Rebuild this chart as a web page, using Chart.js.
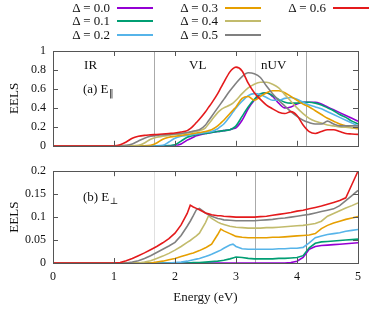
<!DOCTYPE html>
<html>
<head>
<meta charset="utf-8">
<script src="https://cdn.jsdelivr.net/npm/chart.js@4.4.1/dist/chart.umd.min.js"></script>
<style>
  body { margin: 0; width: 374px; height: 309px; background: #fff; position: relative; overflow: hidden; font-family: "Liberation Serif", serif; }
  canvas { position: absolute; left: 0; }
  #cTop { top: 0; }
  #cBot { top: 157px; }
  .lgText { position: absolute; font-size: 13px; line-height: 14px; color: #111; white-space: nowrap; text-align: right; }
  .lgLine { position: absolute; height: 2px; width: 36px; }
</style>
</head>
<body>
<canvas id="cTop" width="374" height="160"></canvas>
<canvas id="cBot" width="374" height="152"></canvas>
<div id="legend"></div>
<script>
// energy grid (eV)
var energy = [0, 0.5, 1.0, 1.1, 1.2, 1.3, 1.4, 1.5, 1.6, 1.7, 1.8, 1.9,
  2.0, 2.1, 2.2, 2.25, 2.3, 2.35, 2.4, 2.5, 2.55, 2.6, 2.7, 2.75, 2.8, 2.9, 2.95,
  3.0, 3.1, 3.2, 3.3, 3.4, 3.5, 3.6, 3.7, 3.8, 3.9,
  4.0, 4.1, 4.2, 4.3, 4.4, 4.5, 4.6, 4.7, 4.8, 4.9, 5.0];

var deltas = ["0.0", "0.1", "0.2", "0.3", "0.4", "0.5", "0.6"];
var colors = ["#9400d3", "#009e73", "#56b4e9", "#e69f00", "#c2bb6c", "#808080", "#e41a1c"];

var energyTicks = [0, 1, 2, 3, 4, 5];
var parTicks = [0, 0.2, 0.4, 0.6, 0.8, 1];
var perpTicks = [0, 0.05, 0.1, 0.15, 0.2];

// (a) E parallel
var par00 = [0, 0, 0, 0, 0, 0, 0, 0, 0, 0, 0, 0,
  0, 0.02, 0.06, 0.075, 0.09, 0.105, 0.115, 0.13, 0.135, 0.14, 0.15, 0.155, 0.16, 0.17, 0.18,
  0.19, 0.27, 0.39, 0.48, 0.54, 0.56, 0.52, 0.45, 0.40, 0.41,
  0.44, 0.46, 0.46, 0.46, 0.44, 0.41, 0.38, 0.35, 0.32, 0.29, 0.26];
var par01 = [0, 0, 0, 0, 0, 0, 0, 0, 0, 0, 0, 0.003,
  0.01, 0.05, 0.09, 0.10, 0.11, 0.118, 0.125, 0.13, 0.135, 0.14, 0.15, 0.155, 0.16, 0.17, 0.185,
  0.21, 0.31, 0.41, 0.49, 0.55, 0.56, 0.53, 0.49, 0.46, 0.45,
  0.45, 0.46, 0.46, 0.45, 0.43, 0.40, 0.37, 0.33, 0.30, 0.26, 0.23];
var par02 = [0, 0, 0, 0, 0, 0, 0, 0, 0, 0, 0.005, 0.04,
  0.08, 0.10, 0.11, 0.115, 0.12, 0.125, 0.13, 0.14, 0.145, 0.15, 0.18, 0.205, 0.23, 0.31, 0.355,
  0.40, 0.47, 0.53, 0.55, 0.54, 0.51, 0.48, 0.48, 0.50, 0.51,
  0.49, 0.46, 0.43, 0.41, 0.39, 0.36, 0.33, 0.30, 0.27, 0.24, 0.21];
var par03 = [0, 0, 0, 0, 0, 0, 0, 0, 0.005, 0.03, 0.07, 0.09,
  0.10, 0.11, 0.12, 0.125, 0.13, 0.135, 0.14, 0.15, 0.16, 0.17, 0.21, 0.24, 0.27, 0.34, 0.375,
  0.41, 0.50, 0.52, 0.48, 0.52, 0.56, 0.58, 0.58, 0.56, 0.52,
  0.48, 0.44, 0.41, 0.37, 0.33, 0.29, 0.26, 0.23, 0.21, 0.19, 0.18];
var par04 = [0, 0, 0, 0, 0, 0, 0.005, 0.03, 0.07, 0.09, 0.10, 0.11,
  0.12, 0.125, 0.135, 0.14, 0.145, 0.152, 0.16, 0.19, 0.23, 0.27, 0.35, 0.38, 0.40, 0.43, 0.45,
  0.48, 0.55, 0.61, 0.65, 0.67, 0.67, 0.65, 0.61, 0.54, 0.47,
  0.40, 0.34, 0.29, 0.26, 0.24, 0.22, 0.21, 0.20, 0.195, 0.19, 0.19];
var par05 = [0, 0, 0, 0, 0.005, 0.02, 0.05, 0.08, 0.10, 0.11, 0.115, 0.12,
  0.125, 0.13, 0.14, 0.147, 0.155, 0.162, 0.17, 0.22, 0.265, 0.31, 0.40, 0.445, 0.49, 0.58, 0.62,
  0.66, 0.73, 0.77, 0.76, 0.72, 0.63, 0.55, 0.48, 0.42, 0.36,
  0.31, 0.27, 0.245, 0.23, 0.23, 0.26, 0.23, 0.21, 0.21, 0.21, 0.21];
var par06 = [0, 0, 0, 0.01, 0.04, 0.08, 0.10, 0.11, 0.115, 0.12, 0.125, 0.13,
  0.135, 0.145, 0.16, 0.18, 0.21, 0.245, 0.28, 0.36, 0.405, 0.45, 0.55, 0.61, 0.67, 0.78, 0.815,
  0.83, 0.79, 0.66, 0.56, 0.49, 0.43, 0.39, 0.355, 0.34, 0.36,
  0.32, 0.22, 0.15, 0.13, 0.15, 0.17, 0.17, 0.15, 0.13, 0.125, 0.12];

// (b) E perpendicular
var perp00 = [0, 0, 0, 0, 0, 0, 0, 0, 0, 0, 0, 0,
  0, 0, 0, 0, 0, 0, 0, 0, 0, 0, 0, 0, 0, 0, 0,
  0, 0, 0, 0, 0, 0, 0, 0, 0, 0.001,
  0.004, 0.012, 0.030, 0.036, 0.038, 0.039, 0.040, 0.041, 0.042, 0.043, 0.044];
var perp01 = [0, 0, 0, 0, 0, 0, 0, 0, 0, 0, 0, 0,
  0, 0, 0, 0.0005, 0.001, 0.001, 0.001, 0.002, 0.0025, 0.003, 0.004, 0.005, 0.006, 0.009, 0.011,
  0.013, 0.012, 0.010, 0.009, 0.009, 0.009, 0.009, 0.010, 0.010, 0.011,
  0.012, 0.016, 0.033, 0.043, 0.046, 0.047, 0.048, 0.049, 0.050, 0.051, 0.052];
var perp02 = [0, 0, 0, 0, 0, 0, 0, 0, 0, 0, 0, 0,
  0.001, 0.002, 0.004, 0.0055, 0.007, 0.0085, 0.010, 0.014, 0.0165, 0.019, 0.025, 0.028, 0.032, 0.039, 0.041,
  0.036, 0.031, 0.030, 0.030, 0.030, 0.030, 0.030, 0.031, 0.031, 0.032,
  0.032, 0.034, 0.044, 0.055, 0.059, 0.062, 0.064, 0.066, 0.069, 0.071, 0.073];
var perp03 = [0, 0, 0, 0, 0, 0, 0, 0, 0, 0.002, 0.004, 0.007,
  0.010, 0.014, 0.018, 0.020, 0.022, 0.0245, 0.027, 0.033, 0.037, 0.041, 0.062, 0.074, 0.070, 0.064, 0.061,
  0.058, 0.056, 0.055, 0.055, 0.055, 0.055, 0.056, 0.056, 0.057, 0.058,
  0.059, 0.060, 0.061, 0.064, 0.075, 0.082, 0.087, 0.091, 0.095, 0.098, 0.101];
var perp04 = [0, 0, 0, 0, 0, 0, 0, 0.002, 0.005, 0.010, 0.015, 0.021,
  0.028, 0.036, 0.045, 0.049, 0.054, 0.059, 0.065, 0.088, 0.103, 0.097, 0.089, 0.086, 0.084, 0.080, 0.079,
  0.078, 0.077, 0.076, 0.076, 0.076, 0.077, 0.077, 0.078, 0.079, 0.080,
  0.081, 0.082, 0.084, 0.086, 0.091, 0.102, 0.108, 0.114, 0.120, 0.125, 0.131];
var perp05 = [0, 0, 0, 0, 0, 0.002, 0.005, 0.010, 0.016, 0.023, 0.030, 0.037,
  0.045, 0.060, 0.080, 0.091, 0.103, 0.116, 0.119, 0.109, 0.105, 0.102, 0.097, 0.096, 0.094, 0.093, 0.0925,
  0.092, 0.092, 0.092, 0.092, 0.093, 0.094, 0.095, 0.097, 0.098, 0.100,
  0.102, 0.104, 0.106, 0.109, 0.112, 0.115, 0.118, 0.125, 0.136, 0.147, 0.158];
var perp06 = [0, 0, 0, 0.001, 0.005, 0.010, 0.016, 0.022, 0.029, 0.036, 0.044, 0.053,
  0.065, 0.083, 0.108, 0.126, 0.122, 0.119, 0.116, 0.109, 0.107, 0.105, 0.103, 0.103, 0.102, 0.101, 0.1005,
  0.100, 0.100, 0.100, 0.100, 0.101, 0.102, 0.104, 0.106, 0.108, 0.110,
  0.113, 0.115, 0.118, 0.121, 0.124, 0.128, 0.132, 0.136, 0.142, 0.171, 0.200];

var parSeries = [par00, par01, par02, par03, par04, par05, par06];
var perpSeries = [perp00, perp01, perp02, perp03, perp04, perp05, perp06];

// region boundaries (eV)
var bounds = [1.65, 3.31, 4.14];

//---------------- legend (html) ----------------
var legend = document.getElementById("legend");
for (var i = 0; i < deltas.length; i++) {
  var col = Math.floor(i / 3), row = i % 3;
  var yc = 7.5 + row * 13.6;
  var t = document.createElement("div");
  t.className = "lgText";
  t.style.right = (374 - (110 + col * 108)) + "px";
  t.style.top = (yc - 7) + "px";
  t.textContent = "\u0394 = " + deltas[i];
  legend.appendChild(t);
  var l = document.createElement("div");
  l.className = "lgLine";
  l.style.left = (117 + col * 108) + "px";
  l.style.top = (yc - 1) + "px";
  l.style.background = colors[i];
  legend.appendChild(l);
}

//---------------- frame / ticks / labels plugin ----------------
var framePlugin = {
  id: "frame",
  beforeDatasetsDraw: function (chart, args, o) {
    var ctx = chart.ctx, a = chart.chartArea, x = chart.scales.x;
    ctx.save();
    ctx.lineWidth = 1;
    for (var i = 0; i < bounds.length; i++) {
      var px = Math.round(x.getPixelForValue(bounds[i])) + 0.5;
      ctx.strokeStyle = o.vcolors[i];
      ctx.beginPath();
      ctx.moveTo(px, a.top);
      ctx.lineTo(px, a.bottom);
      ctx.stroke();
    }
    ctx.restore();
  },
  afterDatasetsDraw: function (chart, args, o) {
    var ctx = chart.ctx, a = chart.chartArea, x = chart.scales.x, y = chart.scales.y;
    ctx.save();
    ctx.strokeStyle = "#555";
    ctx.lineWidth = 1;
    ctx.strokeRect(Math.round(a.left) + 0.5, Math.round(a.top) + 0.5,
      Math.round(a.right - a.left), Math.round(a.bottom - a.top));
    ctx.beginPath();
    energyTicks.forEach(function (v) {
      var px = Math.round(x.getPixelForValue(v)) + 0.5;
      ctx.moveTo(px, a.bottom); ctx.lineTo(px, a.bottom - 5);
      ctx.moveTo(px, a.top); ctx.lineTo(px, a.top + 5);
    });
    o.yTicks.forEach(function (v) {
      var py = Math.round(y.getPixelForValue(v)) + 0.5;
      ctx.moveTo(a.left, py); ctx.lineTo(a.left + 5, py);
      ctx.moveTo(a.right, py); ctx.lineTo(a.right - 5, py);
    });
    ctx.stroke();

    ctx.fillStyle = "#111";
    ctx.textBaseline = "middle";
    ctx.textAlign = "left";
    ctx.font = '13px "Liberation Serif", serif';
    o.notes.forEach(function (n) {
      ctx.fillText(n.t, x.getPixelForValue(n.x), y.getPixelForValue(n.y));
    });
    var lx = x.getPixelForValue(o.panel.x), ly = y.getPixelForValue(o.panel.y);
    ctx.fillText(o.panel.t, lx, ly);
    var w = ctx.measureText(o.panel.t).width;
    ctx.font = '9px "DejaVu Serif", serif';
    ctx.fillText(o.panel.sub, lx + w + 0.5, ly + 4);
    ctx.restore();
  }
};

var tickFont = { family: '"Liberation Serif", serif', size: 12 };
var titleFont = { family: '"Liberation Serif", serif', size: 13 };

function makeSets(series, smooth) {
  return series.map(function (s, i) {
    return {
      data: s.map(function (v, k) { return { x: energy[k], y: v }; }),
      borderColor: colors[i],
      borderWidth: 1.6,
      pointRadius: 0,
      tension: 0,
      cubicInterpolationMode: smooth ? "monotone" : "default",
      order: series.length - i
    };
  });
}

function panelOptions(p) {
  return {
    responsive: false,
    animation: false,
    events: [],
    layout: { padding: p.padding },
    plugins: { legend: { display: false }, tooltip: { enabled: false }, frame: p.frame },
    scales: {
      x: {
        type: "linear", min: 0, max: 5, display: p.showX,
        afterBuildTicks: function (s) { s.ticks = energyTicks.map(function (v) { return { value: v }; }); },
        afterFit: function (s) { if (p.showX) s.height = 46; },
        ticks: { color: "#111", font: tickFont, padding: 7, maxRotation: 0 },
        grid: { display: false, drawTicks: false },
        border: { display: false },
        title: { display: true, text: "Energy (eV)", color: "#111", font: titleFont, padding: { top: 0, bottom: 4 } }
      },
      y: {
        type: "linear", min: p.yTicks[0], max: p.yTicks[p.yTicks.length - 1],
        afterBuildTicks: function (s) { s.ticks = p.yTicks.map(function (v) { return { value: v }; }); },
        afterFit: function (s) { s.width = 53; },
        ticks: { color: "#111", font: tickFont, padding: 7, callback: function (v) { return String(v); } },
        grid: { display: false, drawTicks: false },
        border: { display: false },
        title: { display: true, text: "EELS", color: "#111", font: titleFont, padding: { top: 7, bottom: 0 } }
      }
    }
  };
}

new Chart(document.getElementById("cTop"), {
  type: "line",
  data: { datasets: makeSets(parSeries, true) },
  options: panelOptions({
    padding: { top: 51, right: 16, bottom: 10, left: 0 },
    showX: false,
    yTicks: parTicks,
    frame: {
      vcolors: ["#aaaaaa", "#e0e0e0", "#aaaaaa"],
      yTicks: parTicks,
      notes: [{ t: "IR", x: 0.51, y: 0.85 }, { t: "VL", x: 2.23, y: 0.85 }, { t: "nUV", x: 3.41, y: 0.85 }],
      panel: { t: "(a) E", sub: "\u2016", x: 0.49, y: 0.59 }
    }
  }),
  plugins: [framePlugin]
});

new Chart(document.getElementById("cBot"), {
  type: "line",
  data: { datasets: makeSets(perpSeries, false) },
  options: panelOptions({
    padding: { top: 7, right: 16, bottom: 0, left: 0 },
    showX: true,
    yTicks: perpTicks,
    frame: {
      vcolors: ["#e0e0e0", "#aaaaaa", "#777777"],
      yTicks: perpTicks,
      notes: [],
      panel: { t: "(b) E", sub: "\u22a5", x: 0.49, y: 0.142 }
    }
  }),
  plugins: [framePlugin]
});
</script>
</body>
</html>
